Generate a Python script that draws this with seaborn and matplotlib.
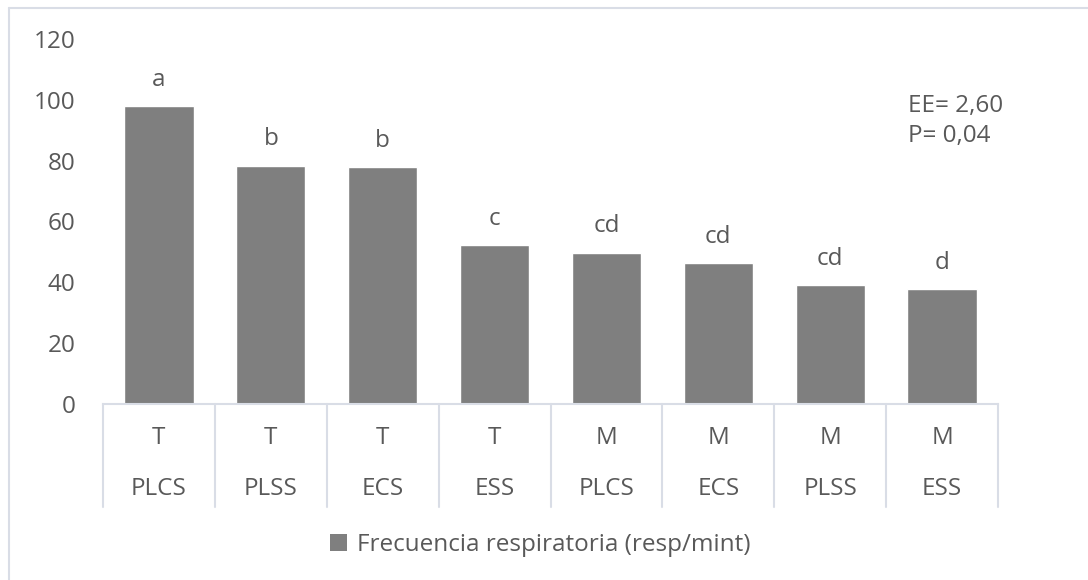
import matplotlib
matplotlib.use("Agg")
import matplotlib.pyplot as plt
from matplotlib.lines import Line2D
from matplotlib.patches import Patch
import seaborn as sns
import pandas as pd

# Data
grupo = ["T", "T", "T", "T", "M", "M", "M", "M"]
tratamiento = ["PLCS", "PLSS", "ECS", "ESS", "PLCS", "ECS", "PLSS", "ESS"]
frecuencia = [98.0, 78.3, 77.8, 52.3, 49.8, 46.3, 39.1, 37.8]
letras = ["a", "b", "b", "c", "cd", "cd", "cd", "d"]
yticks = [0, 20, 40, 60, 80, 100, 120]
serie = "Frecuencia respiratoria (resp/mint)"
nota = "EE= 2,60\nP= 0,04"

sns.set_theme(style="white")
plt.rcParams["font.family"] = ["Open Sans", "DejaVu Sans"]
TXT = "#595959"
BAR = "#7f7f7f"
LINE = "#d9dde6"
FS = 17.5

W, H = 1088, 580
fig = plt.figure(figsize=(W / 100, H / 100), dpi=100)
x0, x1, y0, y1 = 103, 998, 404, 39
ax = fig.add_axes([x0 / W, 1 - y0 / H, (x1 - x0) / W, (y0 - y1) / H])

df = pd.DataFrame({"pos": list(range(len(frecuencia))), "valor": frecuencia})
sns.barplot(data=df, x="pos", y="valor", color=BAR, width=0.62, saturation=1,
            ax=ax, order=list(range(len(frecuencia))))
ax.set_xlim(-0.5, len(frecuencia) - 0.5)
ax.set_ylim(0, 120)
ax.set_yticks(yticks)
ax.set_yticklabels([str(v) for v in yticks], color=TXT, fontsize=FS)
ax.tick_params(axis="y", length=0, pad=20)
ax.set_xticks([])
ax.set_xlabel("")
ax.set_ylabel("")
for s in ["left", "right", "top"]:
    ax.spines[s].set_visible(False)
ax.spines["bottom"].set_color(LINE)
ax.spines["bottom"].set_linewidth(1.5)

trans = ax.get_xaxis_transform()
ah = y0 - y1
for i in range(len(frecuencia) + 1):
    ax.add_line(Line2D([i - 0.5, i - 0.5], [0, -(507 - y0) / ah], transform=trans,
                       color=LINE, lw=1.5, clip_on=False))
for i, (g, t) in enumerate(zip(grupo, tratamiento)):
    ax.text(i, -(438 - y0) / ah, g, transform=trans, ha="center", va="center",
            color=TXT, fontsize=FS)
    ax.text(i, -(489 - y0) / ah, t, transform=trans, ha="center", va="center",
            color=TXT, fontsize=FS)

for i, (v, l) in enumerate(zip(frecuencia, letras)):
    ax.annotate(l, (i, v), xytext=(0, 19), textcoords="offset points",
                ha="center", va="center", color=TXT, fontsize=FS)

fig.text(908 / W, 1 - 121 / H, nota, ha="left", va="center", color=TXT,
         fontsize=FS, linespacing=1.3)

fig.legend(handles=[Patch(facecolor=BAR, edgecolor="none", label=serie)],
           loc="center", bbox_to_anchor=(540 / W, 1 - 545 / H), frameon=False,
           fontsize=FS, labelcolor=TXT, handlelength=0.7, handleheight=0.7,
           handletextpad=0.4)

# outer frame of the chart area
fig.add_artist(Line2D([9 / W, 1], [1 - 8 / H, 1 - 8 / H], transform=fig.transFigure,
                      color=LINE, lw=1.5))
fig.add_artist(Line2D([9 / W, 9 / W], [0, 1 - 8 / H], transform=fig.transFigure,
                      color=LINE, lw=1.5))

fig.savefig("out.png", dpi=100, facecolor="white")
